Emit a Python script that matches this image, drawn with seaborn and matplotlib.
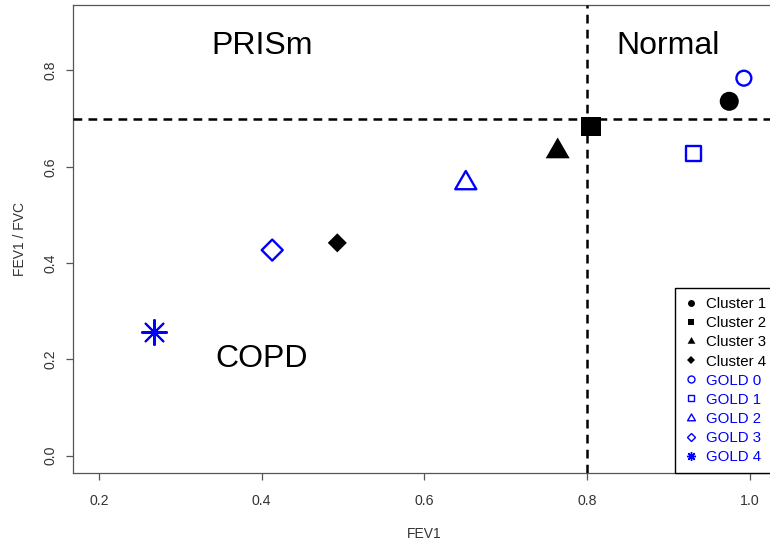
import matplotlib
matplotlib.use("Agg")
import matplotlib.pyplot as plt
import seaborn as sns
import pandas as pd
from matplotlib.lines import Line2D
from matplotlib.path import Path

# ---- data ----
labels = ["Cluster 1", "Cluster 2", "Cluster 3", "Cluster 4",
          "GOLD 0", "GOLD 1", "GOLD 2", "GOLD 3", "GOLD 4"]
fev1 = [0.975, 0.805, 0.764, 0.493, 0.993, 0.931, 0.651, 0.413, 0.268]
fev1_fvc = [0.736, 0.683, 0.632, 0.442, 0.784, 0.628, 0.566, 0.427, 0.256]

x_ticks = [0.2, 0.4, 0.6, 0.8, 1.0]
y_ticks = [0.0, 0.2, 0.4, 0.6, 0.8]
regions = ["PRISm", "Normal", "COPD"]
region_x = [0.4, 0.9, 0.4]
region_y = [0.85, 0.85, 0.2]
cut_fev1 = 0.8
cut_ratio = 0.7

# ---- styles ----
BLUE = "#0000FF"
tri = Path([(0, 1), (-0.866, -0.5), (0.866, -0.5), (0, 1)],
           [Path.MOVETO, Path.LINETO, Path.LINETO, Path.CLOSEPOLY])
markers = ["o", "s", tri, "D", "o", "s", tri, "D", (8, 2, 0)]
colors = ["black"] * 4 + [BLUE] * 5
kind = ["fill"] * 4 + ["open"] * 4 + ["line"]
msize_pt = [13.7, 13.7, 20.0, 9.7, 10.7, 10.7, 17.5, 10.7, 18.0]
leg_ms = [5.0, 5.0, 6.5, 3.8, 5.0, 5.0, 6.5, 4.2, 6.5]

sns.set_theme(style="white")
plt.rcParams["font.family"] = ["Liberation Sans", "DejaVu Sans"]

fig = plt.figure(figsize=(7.7, 5.44), dpi=100)
ax = fig.add_axes([73 / 770, 1 - 473 / 544, (775.6 - 73) / 770, (473 - 5) / 544])

df = pd.DataFrame({"label": labels, "FEV1": fev1, "ratio": fev1_fvc})

for i in range(len(df)):
    sub = df.iloc[[i]]
    if kind[i] == "fill":
        sns.scatterplot(data=sub, x="FEV1", y="ratio", ax=ax,
                        marker=markers[i], s=msize_pt[i] ** 2,
                        color=colors[i], edgecolor="none", linewidth=0,
                        zorder=5, legend=False)
    elif kind[i] == "open":
        sns.scatterplot(data=sub, x="FEV1", y="ratio", ax=ax,
                        marker=markers[i], s=msize_pt[i] ** 2,
                        facecolor="none", edgecolor=colors[i],
                        linewidth=1.7, zorder=5, legend=False)
    else:
        sns.scatterplot(data=sub, x="FEV1", y="ratio", ax=ax,
                        marker=markers[i], s=msize_pt[i] ** 2,
                        color=colors[i], linewidth=1.5,
                        zorder=5, legend=False)

ax.axhline(cut_ratio, color="black", lw=1.8, ls=(0, (3.5, 2.5)), zorder=3)
ax.axvline(cut_fev1, color="black", lw=1.8, ls=(0, (3.5, 2.5)), zorder=3)

for t, xx, yy in zip(regions, region_x, region_y):
    ax.text(xx, yy, t, fontsize=23, ha="center", va="center", color="black")

ax.set_xlim(0.2 - 0.032, 1.0 + 0.032)
ax.set_ylim(0.0 - 0.036, 0.9 + 0.036)
ax.set_xticks(x_ticks)
ax.set_xticklabels([f"{v:.1f}" for v in x_ticks])
ax.set_yticks(y_ticks)
ax.set_yticklabels([f"{v:.1f}" for v in y_ticks], rotation=90, va="center")

for s in ax.spines.values():
    s.set_color("#555555")
    s.set_linewidth(0.9)
ax.tick_params(axis="both", which="both", direction="out", length=5,
               width=0.9, color="#555555", labelcolor="#333333", labelsize=10.2,
               bottom=True, left=True, top=False, right=False)
ax.tick_params(axis="x", pad=10)
ax.tick_params(axis="y", pad=6)
ax.set_xlabel("FEV1", fontsize=10, color="#333333", labelpad=14)
ax.set_ylabel("FEV1 / FVC", fontsize=10, color="#333333", labelpad=12)

handles = []
for i in range(len(labels)):
    if kind[i] == "fill":
        h = Line2D([], [], ls="none", marker=markers[i], markersize=leg_ms[i],
                   color=colors[i], markeredgewidth=0)
    elif kind[i] == "open":
        h = Line2D([], [], ls="none", marker=markers[i], markersize=leg_ms[i],
                   color=colors[i], markerfacecolor="none", markeredgewidth=1.0)
    else:
        h = Line2D([], [], ls="none", marker=markers[i], markersize=leg_ms[i],
                   color=colors[i], markeredgewidth=1.0)
    handles.append(h)

leg = ax.legend(handles, labels, loc="lower right", bbox_to_anchor=(1, 0),
                borderaxespad=0, fancybox=False, framealpha=1, fontsize=10.8,
                handlelength=1.0, handletextpad=0.5, borderpad=0.6,
                labelspacing=0.34)
leg.get_frame().set_edgecolor("black")
leg.get_frame().set_linewidth(1.0)
leg.set_zorder(10)
for txt, c in zip(leg.get_texts(), colors):
    txt.set_color(c)

fig.savefig("out.png", dpi=100)
